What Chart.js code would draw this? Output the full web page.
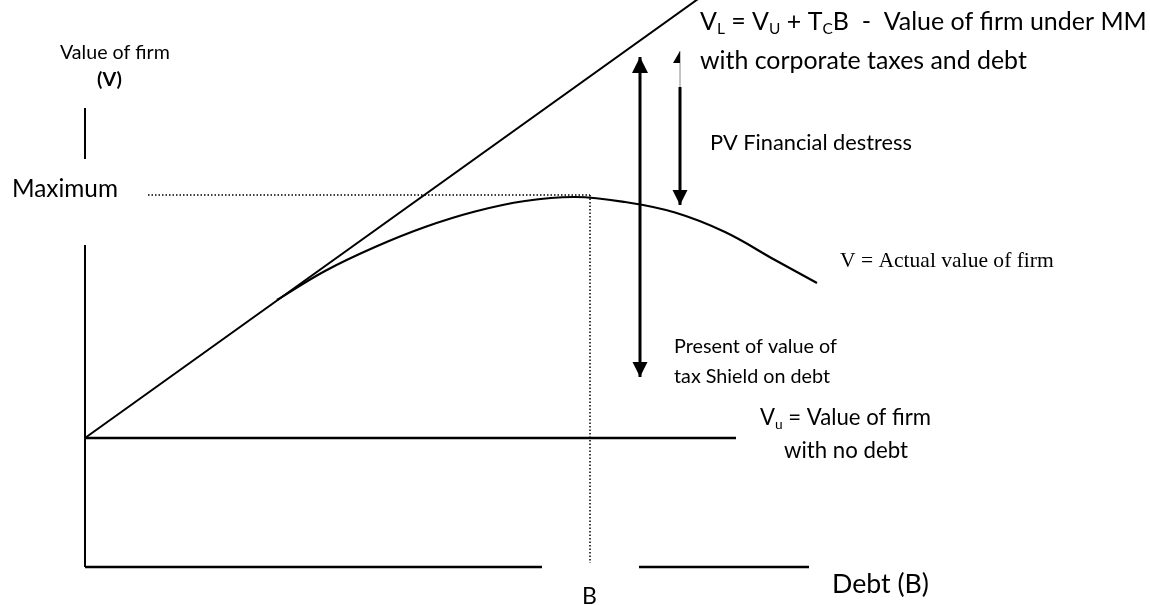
<!DOCTYPE html>
<html>
<head>
<meta charset="utf-8">
<title>Trade-off theory of capital structure</title>
<script src="https://cdn.jsdelivr.net/npm/chart.js@4/dist/chart.umd.min.js"></script>
<style>
  html, body { margin: 0; padding: 0; background: #fff; }
  #wrap { width: 1150px; height: 605px; }
</style>
</head>
<body>
<div id="wrap"><canvas id="chart" width="1150" height="605"></canvas></div>
<script>
// ---- data (debt on x, value of firm on y) ----
const unleveredValue = 12.9;                 // V_u level
const taxLineDebt  = [0, 62];                // V_L = V_U + T_C B
const taxLineValue = [12.9, 57.3];

// V = actual value of firm
const curveDebt  = [19.2, 24, 29, 34, 39, 44, 49, 54, 59, 64, 69, 73.2];
const curveValue = [26.7, 29.6, 32.0, 34.0, 35.55, 36.6, 37.0, 36.5, 35.45, 33.5, 30.7, 28.4];

const unleveredEnd = 65.1;
const optimalDebt  = 50.5;                   // B
const maxValue     = 37.2;                   // Maximum
const maxLineStart = 6.3;

// value axis pieces and debt axis pieces (the drawing has gaps in them)
const valueAxisPieces = [[40.8, 45.9], [0, 32.2]];
const debtAxisPieces  = [[0, 45.7], [55.4, 72.4]];

// arrows
const shieldArrowDebt   = 55.5;
const shieldArrowValue  = [51.0, 19.0];
const distressArrowDebt = 59.5;
const distressArrowValue = [48.0, 36.2];
const distressStubValue  = [48.0, 51.6];

// ---- build datasets ----
const seg = (pieces, fixed, vertical) => {
  const out = [];
  pieces.forEach((p, i) => {
    if (i > 0) out.push({ x: null, y: null });
    p.forEach(v => out.push(vertical ? { x: fixed, y: v } : { x: v, y: fixed }));
  });
  return out;
};

const base = { showLine: true, pointRadius: 0, borderColor: '#000', fill: false, spanGaps: false };

const datasets = [
  Object.assign({}, base, { label: 'value axis', data: seg(valueAxisPieces, 0, true), borderWidth: 2 }),
  Object.assign({}, base, { label: 'debt axis', data: seg(debtAxisPieces, 0, false), borderWidth: 2.5 }),
  Object.assign({}, base, { label: 'Vu', data: [{ x: 0, y: unleveredValue }, { x: unleveredEnd, y: unleveredValue }], borderWidth: 2.5 }),
  Object.assign({}, base, { label: 'VL', data: taxLineDebt.map((d, i) => ({ x: d, y: taxLineValue[i] })), borderWidth: 2 }),
  Object.assign({}, base, { label: 'V', data: curveDebt.map((d, i) => ({ x: d, y: curveValue[i] })),
    borderWidth: 2.2, tension: 0.4 }),
  Object.assign({}, base, { label: 'max', data: [{ x: maxLineStart, y: maxValue }, { x: optimalDebt, y: maxValue }],
    borderWidth: 1.5, borderDash: [1.5, 2] }),
  Object.assign({}, base, { label: 'B', data: [{ x: optimalDebt, y: maxValue }, { x: optimalDebt, y: 0.4 }],
    borderWidth: 1.5, borderDash: [1.5, 2] }),
  Object.assign({}, base, { label: 'shield', data: shieldArrowValue.map(v => ({ x: shieldArrowDebt, y: v })),
    borderWidth: 3, arrowHeads: [{ at: 'start', len: 16, half: 8 }, { at: 'end', len: 15, half: 7.5 }] }),
  Object.assign({}, base, { label: 'distress', data: distressArrowValue.map(v => ({ x: distressArrowDebt, y: v })),
    borderWidth: 3, arrowHeads: [{ at: 'end', len: 15, half: 7.5 }] }),
  Object.assign({}, base, { label: 'stub', data: distressStubValue.map(v => ({ x: distressArrowDebt, y: v })),
    borderWidth: 1, borderColor: '#888', arrowHeads: [{ at: 'end', len: 12, half: 7, side: 'left', color: '#000' }] })
];

// ---- plugins ----
const arrowPlugin = {
  id: 'arrowHeads',
  afterDatasetsDraw(chart) {
    const ctx = chart.ctx;
    chart.data.datasets.forEach((ds, i) => {
      if (!ds.arrowHeads) return;
      const pts = chart.getDatasetMeta(i).data;
      ds.arrowHeads.forEach(h => {
        const tip  = h.at === 'end' ? pts[pts.length - 1] : pts[0];
        const prev = h.at === 'end' ? pts[pts.length - 2] : pts[1];
        const ang = Math.atan2(tip.y - prev.y, tip.x - prev.x);
        const bx = tip.x - Math.cos(ang) * h.len, by = tip.y - Math.sin(ang) * h.len;
        const nx = -Math.sin(ang) * h.half, ny = Math.cos(ang) * h.half;
        ctx.save();
        ctx.fillStyle = h.color || '#000';
        ctx.beginPath();
        ctx.moveTo(tip.x, tip.y);
        if (h.side === 'left') {
          // only one side of the head, as in the source drawing
          ctx.lineTo(bx - Math.abs(nx) - Math.abs(ny), by);
          ctx.lineTo(bx, by);
        } else {
          ctx.lineTo(bx + nx, by + ny);
          ctx.lineTo(bx - nx, by - ny);
        }
        ctx.closePath();
        ctx.fill();
        ctx.restore();
      });
    });
  }
};

const SANS = 'Lato, "Open Sans", sans-serif';
const SERIF = '"Liberation Serif", "DejaVu Serif", serif';

// x = left edge, y = baseline, w = width the text should fill (or a fixed size)
const labels = [
  { parts: [{ t: 'Value of firm' }], x: 60, y: 59, w: 110 },
  { parts: [{ t: '(V)' }], x: 97, y: 86, w: 25, bold: true },
  { parts: [{ t: 'Maximum' }], x: 12, y: 197, w: 106 },
  { parts: [{ t: 'V' }, { t: 'L', sub: true }, { t: ' = V' }, { t: 'U', sub: true }, { t: ' + T' }, { t: 'C', sub: true },
            { t: 'B  -  Value of firm under MM' }], x: 700, y: 30, w: 447 },
  { parts: [{ t: 'with corporate taxes and debt' }], x: 700, y: 69, w: 327 },
  { parts: [{ t: 'PV Financial destress' }], x: 710, y: 150, w: 202 },
  { parts: [{ t: 'V = Actual value of firm' }], x: 840, y: 267, w: 214, serif: true },
  { parts: [{ t: 'Present of value of' }], x: 674, y: 353, w: 163 },
  { parts: [{ t: 'tax Shield on debt' }], x: 674, y: 383, w: 156 },
  { parts: [{ t: 'V' }, { t: 'u', sub: true }, { t: ' = Value of firm' }], x: 760, y: 425, w: 171 },
  { parts: [{ t: 'with no debt' }], x: 784, y: 458, w: 124 },
  { parts: [{ t: 'B' }], x: 582, y: 604, size: 23 },
  { parts: [{ t: 'Debt (B)' }], x: 832, y: 593, w: 97 }
];

const textPlugin = {
  id: 'diagramText',
  afterDraw(chart) {
    const ctx = chart.ctx;
    ctx.save();
    ctx.fillStyle = '#000';
    ctx.textBaseline = 'alphabetic';
    labels.forEach(l => {
      const fam = l.serif ? SERIF : SANS;
      const wt = l.bold ? 'bold ' : '';
      const fontAt = (size, sub) => wt + (sub ? size * 0.62 : size) + 'px ' + fam;
      const widthAt = size => l.parts.reduce((s, p) => {
        ctx.font = fontAt(size, p.sub);
        return s + ctx.measureText(p.t).width;
      }, 0);
      const size = l.size || 20 * l.w / widthAt(20);
      let x = l.x;
      l.parts.forEach(p => {
        ctx.font = fontAt(size, p.sub);
        ctx.fillText(p.t, x, l.y + (p.sub ? size * 0.18 : 0));
        x += ctx.measureText(p.t).width;
      });
    });
    ctx.restore();
  }
};

new Chart(document.getElementById('chart'), {
  type: 'scatter',
  data: { datasets },
  options: {
    responsive: false,
    animation: false,
    devicePixelRatio: 1,
    layout: { padding: 0 },
    plugins: { legend: { display: false }, tooltip: { enabled: false } },
    scales: {
      x: { type: 'linear', min: -8.5, max: 106.5, display: false },
      y: { type: 'linear', min: -3.8, max: 56.7, display: false }
    }
  },
  plugins: [arrowPlugin, textPlugin]
});
</script>
</body>
</html>
